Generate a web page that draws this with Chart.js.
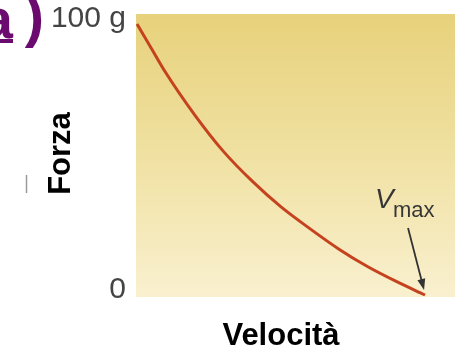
<!DOCTYPE html>
<html>
<head>
<meta charset="utf-8">
<script src="https://cdn.jsdelivr.net/npm/chart.js@4/dist/chart.umd.min.js"></script>
<style>
  html, body { margin: 0; padding: 0; background: #ffffff; }
  #wrap { width: 462px; height: 351px; }
</style>
</head>
<body>
<div id="wrap"><canvas id="forceChart" width="462" height="351"></canvas></div>
<script>
// velocità (frazione di Vmax) e forza (% di 100 g)
const velocity = [0, 0.05, 0.1, 0.2, 0.3, 0.4, 0.5, 0.6, 0.7, 0.8, 0.9, 1.0];
const force    = [100, 91, 82, 66.5, 53, 42, 32.5, 24.5, 17, 10.5, 5, 0];
const yTicks = [0, 100];
const yTickLabels = ['0', '100 g'];
const xTitle = 'Velocità';
const yTitle = 'Forza';

const FONT = '"Liberation Sans", Arial, sans-serif';

// sfondo giallo sfumato dell'area del grafico
const bgPlugin = {
  id: 'bgGradient',
  beforeDraw(chart) {
    const { ctx, chartArea: a } = chart;
    const g = ctx.createLinearGradient(0, a.top, 0, a.bottom);
    g.addColorStop(0, '#e7d17b');
    g.addColorStop(0.5, '#f0e1a2');
    g.addColorStop(1, '#f9f0cf');
    ctx.save();
    ctx.fillStyle = g;
    ctx.fillRect(a.left, a.top, a.right - a.left, a.bottom - a.top);
    ctx.restore();
  }
};

// titoli, etichetta Vmax con freccia, "a)"
const labelsPlugin = {
  id: 'extraLabels',
  afterDraw(chart) {
    const { ctx } = chart;
    const xs = chart.scales.x, ys = chart.scales.y;
    ctx.save();

    // "a)" tagliato in alto a sinistra
    ctx.fillStyle = '#6b0b70';
    ctx.font = 'bold 56px ' + FONT;
    ctx.textAlign = 'right';
    ctx.textBaseline = 'alphabetic';
    ctx.fillText('a', 13, 38);
    ctx.fillRect(0, 39, 13, 4);
    ctx.font = 'bold 58px ' + FONT;
    ctx.fillText(')', 44, 36);

    // piccolo segno grigio a sinistra
    ctx.strokeStyle = '#9a9a9a';
    ctx.lineWidth = 1.5;
    ctx.beginPath();
    ctx.moveTo(26.5, 175);
    ctx.lineTo(26.5, 193);
    ctx.stroke();

    // titolo asse y
    ctx.fillStyle = '#000000';
    ctx.font = 'bold 31px ' + FONT;
    ctx.save();
    ctx.translate(70, 153.5);
    ctx.rotate(-Math.PI / 2);
    ctx.textAlign = 'center';
    ctx.fillText(yTitle, 0, 0);
    ctx.restore();

    // titolo asse x
    ctx.textAlign = 'center';
    ctx.fillText(xTitle, 281, 345);

    // Vmax
    const px = xs.getPixelForValue(velocity[velocity.length - 1]);
    const py = ys.getPixelForValue(force[force.length - 1]);
    ctx.fillStyle = '#363636';
    ctx.textAlign = 'left';
    ctx.font = 'italic 28px ' + FONT;
    ctx.fillText('V', px - 50, py - 87);
    ctx.font = '22px ' + FONT;
    ctx.fillText('max', px - 32, py - 78);

    // freccia
    const x0 = px - 17, y0 = py - 67, x1 = px - 1, y1 = py - 5;
    const ang = Math.atan2(y1 - y0, x1 - x0);
    ctx.strokeStyle = '#333333';
    ctx.lineWidth = 1.8;
    ctx.beginPath();
    ctx.moveTo(x0, y0);
    ctx.lineTo(x1 - 8 * Math.cos(ang), y1 - 8 * Math.sin(ang));
    ctx.stroke();
    ctx.beginPath();
    ctx.moveTo(x1, y1);
    ctx.lineTo(x1 - 11 * Math.cos(ang) + 4 * Math.sin(ang), y1 - 11 * Math.sin(ang) - 4 * Math.cos(ang));
    ctx.lineTo(x1 - 11 * Math.cos(ang) - 4 * Math.sin(ang), y1 - 11 * Math.sin(ang) + 4 * Math.cos(ang));
    ctx.closePath();
    ctx.fillStyle = '#333333';
    ctx.fill();

    ctx.restore();
  }
};

const ctx = document.getElementById('forceChart').getContext('2d');
new Chart(ctx, {
  type: 'line',
  data: {
    datasets: [{
      data: velocity.map((v, i) => ({ x: v, y: force[i] })),
      borderColor: '#c4431e',
      borderWidth: 3,
      pointRadius: 0,
      cubicInterpolationMode: 'monotone',
      fill: false
    }]
  },
  options: {
    responsive: false,
    animation: false,
    devicePixelRatio: 1,
    layout: { padding: { top: 14, right: 7, bottom: 54, left: 0 } },
    plugins: {
      legend: { display: false },
      tooltip: { enabled: false }
    },
    scales: {
      x: {
        type: 'linear',
        display: false,
        min: -0.0035,
        max: 1.104
      },
      y: {
        type: 'linear',
        min: -0.74,
        max: 103.7,
        grid: { display: false, drawTicks: false },
        border: { display: false },
        afterBuildTicks: (scale) => {
          scale.ticks = yTicks.map(v => ({ value: v }));
        },
        afterFit: (scale) => {
          scale.width = 136;
          scale.paddingTop = 0;
          scale.paddingBottom = 0;
        },
        ticks: {
          padding: 10,
          labelOffset: -5,
          color: '#444444',
          font: { family: FONT, size: 30 },
          callback: (value) => yTickLabels[yTicks.indexOf(value)]
        }
      }
    }
  },
  plugins: [bgPlugin, labelsPlugin]
});
</script>
</body>
</html>
